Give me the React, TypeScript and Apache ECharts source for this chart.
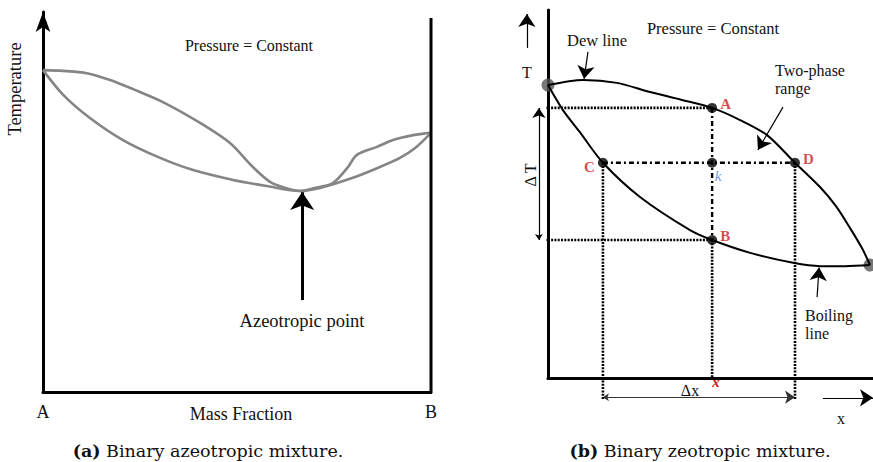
import React, { useEffect, useRef } from "react";
import * as echarts from "echarts";

// ---- (a) azeotropic mixture: mass fraction (0 = A, 1 = B) vs temperature ----
const azeoDew: [number, number][] = [
  [0, 84.7], [0.052, 84.5], [0.113, 83.9], [0.173, 82.1], [0.232, 79.7], [0.309, 76.3],
  [0.405, 70.8], [0.482, 65.5], [0.541, 59.2], [0.585, 55.3], [0.619, 53.9], [0.662, 52.9],
  [0.701, 53.7], [0.747, 55.0], [0.784, 58.9], [0.809, 62.4], [0.861, 64.5], [0.902, 66.3],
  [0.954, 67.6], [1, 68.2],
];
const azeoBubble: [number, number][] = [
  [0, 84.7], [0.052, 78.2], [0.121, 72.1], [0.206, 66.3], [0.302, 61.6], [0.387, 58.4],
  [0.49, 55.8], [0.577, 54.2], [0.662, 52.9], [0.714, 53.7], [0.791, 56.1], [0.861, 58.9],
  [0.92, 61.6], [0.959, 64.2], [1, 68.2],
];
const azeoPointArrow: [number, number][] = [[0.668, 24.2], [0.668, 52.6]];
const azeoRightWall: [number, number][] = [[1, 0], [1, 98.4]];
const azeoTicks = ["A", "B"];

// ---- (b) zeotropic mixture: composition x vs temperature T ----
const zeoDew: [number, number][] = [
  [0, 79.6], [0.108, 81.0], [0.212, 80.2], [0.314, 77.7], [0.415, 75.5], [0.505, 73.4],
  [0.591, 70.1], [0.674, 66.0], [0.76, 58.5], [0.837, 51.9], [0.886, 46.7], [0.929, 40.8],
  [0.966, 35.3], [0.991, 30.7],
];
const zeoBoiling: [number, number][] = [
  [0, 79.6], [0.046, 72.8], [0.098, 66.8], [0.169, 58.5], [0.283, 49.2], [0.437, 40.2],
  [0.505, 37.5], [0.622, 34.0], [0.754, 31.3], [0.837, 30.4], [0.914, 30.4], [0.991, 30.7],
];
const stateNames = ["A", "B", "C", "D", "k"];
const stateX = [0.505, 0.505, 0.169, 0.76, 0.505];
const stateT = [73.4, 37.5, 58.5, 58.5, 58.5];
const pureEnds: [number, number][] = [[0, 79.6], [0.991, 30.7]];
const axisFoot = -6; // where the dotted drop lines end, below the x axis
const deltaRow = -5.2; // height of the Δx dimension arrow
const deltaCol = -0.028; // position of the ΔT dimension arrow
const guideStart = -0.031;

const SERIF = "'Liberation Serif', 'Times New Roman', serif";
const CAPTION = "'DejaVu Serif', serif";
const RED = "#cc1b1b";

export default function App() {
  const ref = useRef<HTMLDivElement>(null);

  useEffect(() => {
    if (!ref.current) return;
    const chart = echarts.init(ref.current, undefined, { renderer: "svg" });

    const pt = (i: number): [number, number] => [stateX[i], stateT[i]];
    const [A, B, C, D] = [0, 1, 2, 3].map(pt);

    const seg = (data: [number, number][], type: any, width = 2.6, color = "#000") => ({
      type: "line",
      xAxisIndex: 1,
      yAxisIndex: 1,
      data,
      symbol: "none",
      clip: false,
      silent: true,
      lineStyle: { color, width, type, cap: "butt" },
    });

    const arrow = (
      grid: number,
      from: [number, number],
      to: [number, number],
      both = false,
      width = 1.3,
      size: any = [7, 12],
      color = "#000"
    ) => ({
      type: "lines",
      coordinateSystem: "cartesian2d",
      xAxisIndex: grid,
      yAxisIndex: grid,
      clip: false,
      silent: true,
      symbol: [both ? "arrow" : "none", "arrow"],
      symbolSize: size,
      lineStyle: { color, width, opacity: 1, curveness: 0 },
      data: [{ coords: [from, to] }],
    });

    const dotted = [2, 1.3];
    const dashDot = [5, 3, 2, 3];

    const txt = (x: number, y: number, text: string, size = 16, extra: any = {}, rotation = 0) => ({
      type: "text",
      x,
      y,
      rotation,
      silent: true,
      style: {
        text,
        fontFamily: SERIF,
        fontSize: size,
        fill: "#111",
        align: "center",
        verticalAlign: "middle",
        ...extra,
      },
    });

    const caption = (x: number, tag: string, text: string) => ({
      type: "text",
      x,
      y: 451,
      silent: true,
      style: {
        text: `{b|${tag}} ${text}`,
        fontFamily: CAPTION,
        fontSize: 17.5,
        fill: "#111",
        align: "center",
        verticalAlign: "middle",
        rich: { b: { fontFamily: CAPTION, fontSize: 17.5, fontWeight: "bold", fill: "#111" } },
      },
    });

    chart.setOption({
      animation: false,
      grid: [
        { left: 43, top: 12, width: 388, height: 380 },
        { left: 548, top: 10, width: 325, height: 368 },
      ],
      xAxis: [
        {
          gridIndex: 0,
          type: "value",
          min: 0,
          max: 1,
          interval: 1,
          axisLine: { show: true, lineStyle: { color: "#000", width: 3 } },
          axisTick: { show: false },
          splitLine: { show: false },
          axisLabel: {
            formatter: (v: number) => azeoTicks[v],
            fontFamily: SERIF,
            fontSize: 18,
            color: "#111",
            margin: 11,
          },
        },
        {
          gridIndex: 1,
          type: "value",
          min: 0,
          max: 1,
          axisLine: { show: true, lineStyle: { color: "#000", width: 3 } },
          axisTick: { show: false },
          splitLine: { show: false },
          axisLabel: { show: false },
        },
      ],
      yAxis: [
        {
          gridIndex: 0,
          type: "value",
          min: 0,
          max: 100,
          axisLine: {
            show: true,
            symbol: ["none", "arrow"],
            symbolSize: [11, 20],
            lineStyle: { color: "#000", width: 3 },
          },
          axisTick: { show: false },
          splitLine: { show: false },
          axisLabel: { show: false },
        },
        {
          gridIndex: 1,
          type: "value",
          min: 0,
          max: 100,
          axisLine: { show: true, lineStyle: { color: "#000", width: 3 } },
          axisTick: { show: false },
          splitLine: { show: false },
          axisLabel: { show: false },
        },
      ],
      series: [
        // (a)
        {
          type: "line",
          xAxisIndex: 0,
          yAxisIndex: 0,
          data: azeoDew,
          symbol: "none",
          smooth: 0.3,
          lineStyle: { color: "#858585", width: 2.6 },
        },
        {
          type: "line",
          xAxisIndex: 0,
          yAxisIndex: 0,
          data: azeoBubble,
          symbol: "none",
          smooth: 0.3,
          lineStyle: { color: "#858585", width: 2.6 },
        },
        {
          type: "line",
          xAxisIndex: 0,
          yAxisIndex: 0,
          data: azeoRightWall,
          symbol: "none",
          clip: false,
          lineStyle: { color: "#000", width: 3 },
        },
        arrow(0, azeoPointArrow[0], azeoPointArrow[1], false, 3, [11, 18]),

        // (b) phase envelope
        {
          type: "line",
          xAxisIndex: 1,
          yAxisIndex: 1,
          data: zeoDew,
          symbol: "none",
          smooth: 0.3,
          clip: false,
          lineStyle: { color: "#000", width: 2 },
        },
        {
          type: "line",
          xAxisIndex: 1,
          yAxisIndex: 1,
          data: zeoBoiling,
          symbol: "none",
          smooth: 0.3,
          clip: false,
          lineStyle: { color: "#000", width: 2 },
        },
        // guide lines
        seg([[guideStart, A[1]], A], dotted),
        seg([[guideStart, B[1]], B], dotted),
        seg([B, [B[0], 0]], dotted),
        seg([C, [C[0], axisFoot]], dotted),
        seg([D, [D[0], axisFoot]], dotted),
        seg([A, B], dashDot, 2.4),
        seg([C, D], dashDot, 2.4),
        // dimension and pointer arrows
        arrow(1, [deltaCol, B[1]], [deltaCol, A[1]], true, 1.2, [6, 10]),
        arrow(1, [C[0], deltaRow], [D[0], deltaRow], true, 1.2, [6, 10], "#333"),
        arrow(1, [0.846, -5.4], [1.0, -5.4], false, 1.2, [8, 13]),
        arrow(1, [-0.065, 89.7], [-0.065, 98.9], false, 1.2, [8, 13]),
        arrow(1, [0.123, 88.6], [0.111, 81.3], false, 1.2, [8, 13]),
        arrow(1, [0.723, 73.6], [0.646, 62.0], false, 1.2, [8, 13]),
        arrow(1, [0.828, 22.0], [0.834, 30.0], false, 1.2, [8, 13]),
        // pure-component ends
        {
          type: "scatter",
          xAxisIndex: 1,
          yAxisIndex: 1,
          data: pureEnds,
          symbolSize: 13,
          clip: false,
          itemStyle: { color: "#555" },
        },
        // state points
        {
          type: "scatter",
          xAxisIndex: 1,
          yAxisIndex: 1,
          symbolSize: 10,
          itemStyle: { color: "#000" },
          data: stateNames.map((name, i) => {
            const label: any = {
              show: true,
              formatter: name,
              fontFamily: SERIF,
              fontWeight: "bold",
              fontSize: 15,
              color: RED,
              position: "right",
              distance: 3,
              offset: [0, -4],
            };
            if (name === "C") {
              label.position = "left";
              label.offset = [0, 4];
            }
            if (name === "k") {
              label.position = "bottom";
              label.offset = [6, -2];
              label.color = "#4a78d8";
              label.fontStyle = "italic";
              label.fontWeight = "normal";
              label.fontSize = 15;
            }
            return { name, value: [stateX[i], stateT[i]], label };
          }),
        },
      ],
      graphic: [
        txt(249, 45, "Pressure = Constant", 16),
        txt(15, 89, "Temperature", 18.5, {}, Math.PI / 2),
        txt(302, 321, "Azeotropic point", 18.5),
        txt(241, 414, "Mass Fraction", 18),
        txt(713, 28, "Pressure = Constant", 16.5),
        txt(567, 40, "Dew line", 16.5, { align: "left" }),
        txt(527, 72, "T", 16),
        txt(775, 70, "Two-phase", 16, { align: "left" }),
        txt(775, 88, "range", 16, { align: "left" }),
        txt(805, 315, "Boiling", 16, { align: "left" }),
        txt(805, 333, "line", 16, { align: "left" }),
        txt(690, 390, "Δx", 16),
        txt(841, 418, "x", 16),
        txt(716, 382, "x", 15, { fill: RED, fontStyle: "italic", fontWeight: "bold" }),
        txt(530, 175, "Δ T", 16, {}, Math.PI / 2),
        caption(208, "(a)", "Binary azeotropic mixture."),
        caption(700, "(b)", "Binary zeotropic mixture."),
      ],
    });

    return () => chart.dispose();
  }, []);

  return (
    <div
      ref={ref}
      style={{ position: "fixed", left: 0, top: 0, width: 873, height: 462, background: "#fff" }}
    />
  );
}
